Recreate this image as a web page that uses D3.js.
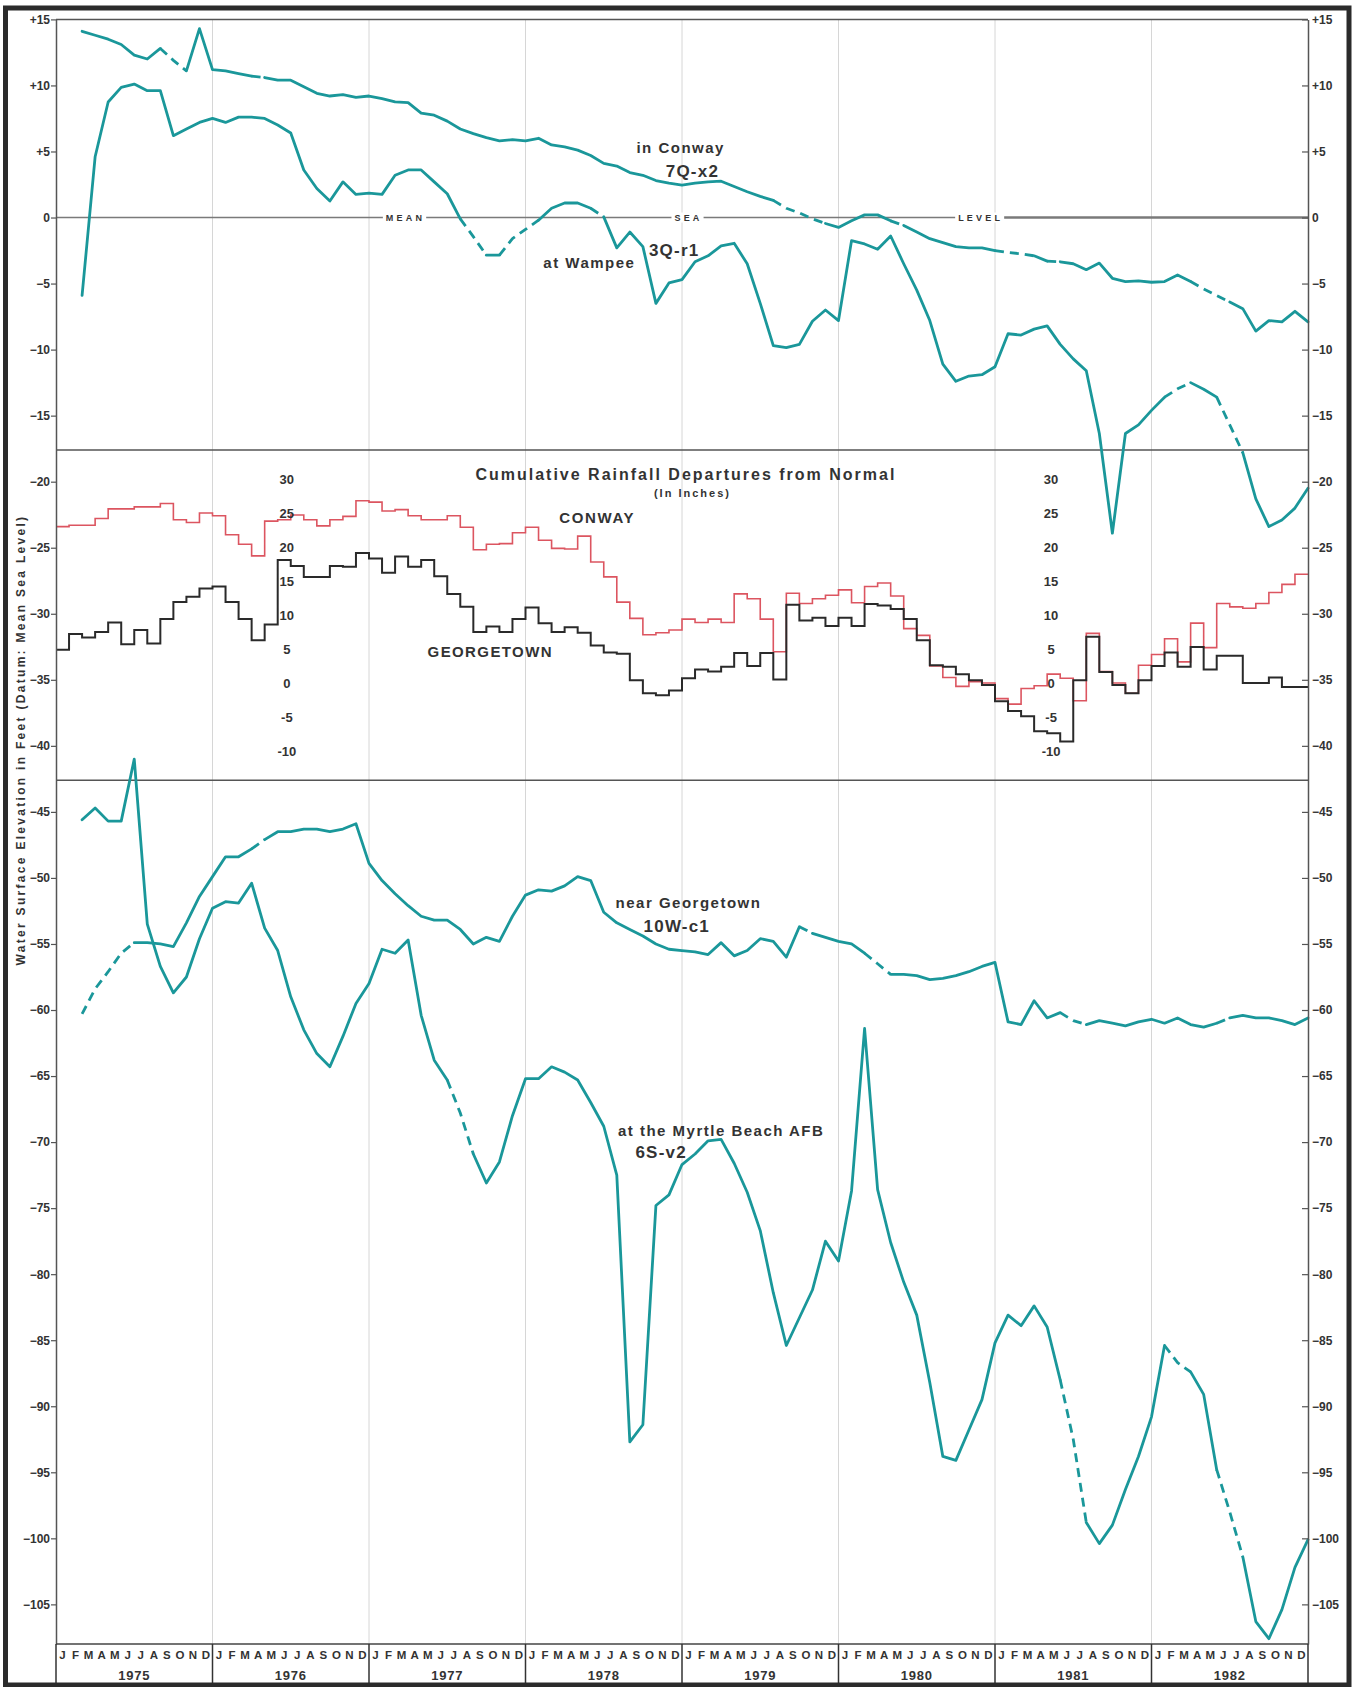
<!DOCTYPE html>
<html>
<head>
<meta charset="utf-8">
<title>Water levels and cumulative rainfall departures, 1975-1982</title>
<script src="https://cdn.jsdelivr.net/npm/d3@7"></script>
<style>
  html, body { margin: 0; padding: 0; background: #fff; }
  svg { display: block; }
</style>
</head>
<body>
<svg id="chart" width="1362" height="1687"></svg>
<script>
// ---- Calendar ----
const years = [1975, 1976, 1977, 1978, 1979, 1980, 1981, 1982];
const monthLetters = ["J", "F", "M", "A", "M", "J", "J", "A", "S", "O", "N", "D"];

// ---- Axis tick labels ----
const elevationTicks = [15, 10, 5, 0, -5, -10, -15, -20, -25, -30, -35, -40, -45, -50, -55,
  -60, -65, -70, -75, -80, -85, -90, -95, -100, -105];
const rainTicks = [30, 25, 20, 15, 10, 5, 0, -5, -10];

// ---- Well hydrographs: end-of-month water level, feet relative to mean sea level ----
// First reading is at the end of February 1975 (month 2), last at the end of December 1982 (month 96).
const firstReading = 2;

// 7Q-x2, in Conway
const conway7Q = [
  14.1, 13.8, 13.5, 13.1, 12.3, 12.0, 12.8, 11.9, 11.1, 14.3,
  11.2, 11.1, 10.9, 10.7, 10.6, 10.4, 10.4, 9.9, 9.4, 9.2,
  9.3, 9.1, 9.2, 9.0, 8.75, 8.7, 7.9, 7.75, 7.3, 6.7,
  6.35, 6.05, 5.8, 5.9, 5.8, 6.0, 5.5, 5.35, 5.1, 4.7,
  4.1, 3.9, 3.4, 3.2, 2.8, 2.6, 2.45, 2.6, 2.7, 2.75,
  2.35, 1.95, 1.6, 1.3, 0.7, 0.35, -0.1, -0.45, -0.75, -0.25,
  0.2, 0.2, -0.25, -0.6, -1.1, -1.6, -1.9, -2.2, -2.3, -2.3,
  -2.5, -2.65, -2.75, -2.9, -3.3, -3.35, -3.5, -3.95, -3.45, -4.6,
  -4.85, -4.8, -4.9, -4.85, -4.35, -4.85, -5.4, -5.9, -6.4, -6.9,
  -8.6, -7.8, -7.9, -7.1, -7.9
];
// 3Q-r1, at Wampee
const wampee3Q = [
  -5.9, 4.6, 8.75, 9.85, 10.1, 9.6, 9.6, 6.2, 6.7, 7.2,
  7.5, 7.2, 7.6, 7.6, 7.5, 7.0, 6.4, 3.6, 2.2, 1.25,
  2.7, 1.75, 1.85, 1.75, 3.2, 3.6, 3.6, 2.7, 1.8, -0.1,
  -1.45, -2.85, -2.85, -1.6, -0.9, -0.2, 0.7, 1.1, 1.1, 0.7,
  0.05, -2.3, -1.1, -2.2, -6.5, -4.95, -4.7, -3.35, -2.9, -2.15,
  -1.95, -3.5, -6.5, -9.7, -9.85, -9.6, -7.85, -7.0, -7.8, -1.75,
  -2.0, -2.4, -1.4, -3.5, -5.5, -7.8, -11.1, -12.4, -12.0, -11.9,
  -11.3, -8.8, -8.9, -8.45, -8.2, -9.6, -10.7, -11.6, -16.35, -23.9,
  -16.35, -15.7, -14.6, -13.6, -12.97, -12.5, -13.0, -13.6, -15.7, -17.8,
  -21.3, -23.4, -22.9, -22.0, -20.5
];
// 10W-c1, near Georgetown
const georgetown10W = [
  -60.3, -58.4, -57.1, -55.7, -54.9, -54.9, -55.0, -55.2, -53.4, -51.4,
  -49.9, -48.4, -48.4, -47.8, -47.1, -46.5, -46.5, -46.3, -46.3, -46.5,
  -46.3, -45.9, -48.9, -50.2, -51.2, -52.1, -52.9, -53.2, -53.2, -53.9,
  -55.0, -54.5, -54.8, -52.9, -51.3, -50.9, -51.0, -50.6, -49.9, -50.2,
  -52.6, -53.4, -53.9, -54.4, -55.0, -55.4, -55.5, -55.6, -55.8, -54.9,
  -55.9, -55.5, -54.6, -54.8, -56.0, -53.7, -54.2, -54.5, -54.8, -55.0,
  -55.7, -56.5, -57.3, -57.3, -57.4, -57.7, -57.6, -57.4, -57.1, -56.7,
  -56.4, -60.9, -61.1, -59.3, -60.6, -60.2, -60.8, -61.1, -60.8, -61.0,
  -61.2, -60.9, -60.7, -61.0, -60.6, -61.1, -61.3, -61.0, -60.6, -60.4,
  -60.6, -60.6, -60.8, -61.1, -60.6
];
// 6S-v2, at the Myrtle Beach AFB
const myrtle6S = [
  -45.6, -44.7, -45.7, -45.7, -41.0, -53.5, -56.7, -58.7, -57.5, -54.6,
  -52.3, -51.8, -51.9, -50.4, -53.8, -55.5, -59.0, -61.5, -63.3, -64.3,
  -62.0, -59.5, -58.0, -55.4, -55.7, -54.7, -60.4, -63.8, -65.3, -67.8,
  -70.9, -73.1, -71.5, -68.0, -65.2, -65.2, -64.3, -64.7, -65.3, -67.0,
  -68.8, -72.5, -92.7, -91.4, -74.8, -74.0, -71.7, -70.9, -69.9, -69.8,
  -71.6, -73.8, -76.7, -81.4, -85.4, -83.3, -81.2, -77.5, -79.0, -73.7,
  -61.4, -73.6, -77.6, -80.6, -83.1, -88.2, -93.8, -94.1, -91.8, -89.5,
  -85.2, -83.1, -83.9, -82.4, -84.0, -88.0, -92.5, -98.8, -100.4, -99.0,
  -96.3, -93.8, -90.8, -85.4, -86.7, -87.4, -89.1, -94.8, -98.0, -101.4,
  -106.3, -107.6, -105.4, -102.2, -100.1
];

// Intervals with an estimated record: each entry is the month that starts the interval
const conway7QEstimated = [8, 9, 15, 55, 56, 57, 58, 64, 72, 73, 74, 76, 87, 88, 89];
const wampee3QEstimated = [31, 32, 34, 35, 36, 41, 85, 86, 89, 90];
const georgetown10WEstimated = [2, 3, 4, 5, 15, 57, 62, 63, 77, 78, 89];
const myrtle6SEstimated = [30, 31, 77, 78, 85, 86, 89, 90];

// ---- Cumulative rainfall departure from normal, inches, monthly Jan 1975 - Dec 1982 ----
const rainConway = [
  23.0, 23.2, 23.2, 24.2, 25.6, 25.6, 25.9, 25.9, 26.4, 24.0, 23.6, 25.0,
  24.6, 21.8, 20.4, 18.7, 23.8, 24.0, 24.7, 24.0, 23.1, 24.0, 24.5, 26.8,
  26.6, 25.3, 25.5, 24.6, 24.0, 24.0, 24.6, 22.9, 19.6, 20.4, 20.5, 22.1,
  22.9, 21.0, 19.8, 19.7, 21.6, 17.8, 15.6, 11.9, 9.5, 7.1, 7.4, 7.8,
  9.4, 8.9, 9.4, 8.9, 13.1, 12.4, 9.4, 4.6, 13.2, 11.7, 12.4, 12.9,
  13.7, 11.8, 14.2, 14.7, 12.8, 8.0, 7.0, 2.5, 0.8, -0.5, 0.2, 0.0,
  -2.3, -3.1, -0.8, -0.4, 1.3, 0.7, -2.6, 7.3, 1.7, 0.0, -1.5, 2.6,
  4.2, 6.5, 3.1, 8.8, 5.2, 11.7, 11.2, 11.0, 11.7, 13.3, 14.5, 16.0
];
const rainGeorgetown = [
  4.9, 7.2, 6.7, 7.5, 8.9, 5.7, 7.8, 5.8, 9.4, 11.9, 12.7, 13.9,
  14.2, 11.9, 9.4, 6.3, 8.6, 18.1, 17.2, 15.6, 15.6, 17.2, 17.1, 19.1,
  18.3, 16.2, 18.6, 17.1, 18.1, 15.7, 13.1, 11.2, 7.5, 8.3, 7.5, 9.4,
  11.1, 8.8, 7.5, 8.2, 7.4, 5.5, 4.5, 4.3, 0.4, -1.5, -1.8, -1.1,
  0.7, 2.0, 1.7, 2.4, 4.4, 2.5, 4.4, 0.5, 11.5, 9.2, 9.6, 8.4,
  9.6, 8.4, 11.6, 11.4, 10.9, 9.4, 6.3, 2.6, 2.4, 1.3, 0.4, -0.3,
  -2.7, -4.1, -4.9, -7.1, -7.4, -8.6, 0.4, 6.8, 1.6, -0.3, -1.5, 0.4,
  2.5, 4.5, 2.4, 5.3, 2.0, 4.0, 4.0, 0.0, 0.0, 0.8, -0.6, -0.6
];

// Elevations (feet) where the figure is split into its three panels
const panelBreaks = [-17.6, -42.6];

// ---------------------------------------------------------------------------
const FONT = '"Liberation Sans", Arial, Helvetica, sans-serif';
const TEAL = "#1a979a";
const INK = "#333";

const svg = d3.select("#chart").attr("font-family", FONT);
svg.append("rect").attr("width", 1362).attr("height", 1687).attr("fill", "#fff");

const plot = { left: 56, right: 1308, top: 19.4, bottom: 1644 };
const x = d3.scaleLinear().domain([0, 96]).range([plot.left, plot.right]);
const y = d3.scaleLinear().domain([15, -108]).range([plot.top, plot.bottom]);
const yRain = d3.scaleLinear().domain([-10, 30]).range([751, 479]);

// Year gridlines
svg.append("g").selectAll("line")
  .data(years.slice(1).map((yr, i) => (i + 1) * 12))
  .join("line")
  .attr("x1", d => x(d)).attr("x2", d => x(d))
  .attr("y1", plot.top).attr("y2", plot.bottom)
  .attr("stroke", "#d6d6d6").attr("stroke-width", 1);

// Panel separators
svg.append("g").selectAll("line").data(panelBreaks).join("line")
  .attr("x1", plot.left).attr("x2", plot.right)
  .attr("y1", d => y(d)).attr("y2", d => y(d))
  .attr("stroke", "#555").attr("stroke-width", 1.6);

// Mean sea level line with its spaced caption
const msl = svg.append("g");
msl.append("line")
  .attr("x1", plot.left).attr("x2", x(70))
  .attr("y1", y(0)).attr("y2", y(0))
  .attr("stroke", "#7a7a7a").attr("stroke-width", 1.6);
msl.append("line")
  .attr("x1", x(70)).attr("x2", plot.right)
  .attr("y1", y(0)).attr("y2", y(0))
  .attr("stroke", "#7a7a7a").attr("stroke-width", 2.6);
const mslWords = [{ w: "MEAN", t: 26.8 }, { w: "SEA", t: 48.5 }, { w: "LEVEL", t: 70.9 }];
mslWords.forEach(d => {
  const g = msl.append("g");
  const txt = g.append("text")
    .attr("x", x(d.t)).attr("y", y(0))
    .attr("text-anchor", "middle").attr("dominant-baseline", "central")
    .attr("font-size", 9).attr("font-weight", "bold")
    .attr("letter-spacing", 3.2).attr("fill", INK)
    .text(d.w);
  const bb = txt.node().getBBox();
  g.insert("rect", "text")
    .attr("x", bb.x - 3).attr("y", bb.y).attr("width", bb.width + 4).attr("height", bb.height)
    .attr("fill", "#fff");
});

// Rainfall departure step lines
const stepLine = d3.line().curve(d3.curveStepAfter)
  .x(d => x(d.t)).y(d => yRain(d.v));
const stepPoints = arr => arr.map((v, i) => ({ t: i, v })).concat([{ t: 96, v: arr[arr.length - 1] }]);
svg.append("path").datum(stepPoints(rainConway))
  .attr("d", stepLine).attr("fill", "none")
  .attr("stroke", "#dc5560").attr("stroke-width", 1.6);
svg.append("path").datum(stepPoints(rainGeorgetown))
  .attr("d", stepLine).attr("fill", "none")
  .attr("stroke", "#2a2a2a").attr("stroke-width", 2);

// Rainfall scale labels, printed twice inside the middle panel
[17.7, 76.3].forEach(tc => {
  svg.append("g").selectAll("text").data(rainTicks).join("text")
    .attr("x", x(tc)).attr("y", d => yRain(d))
    .attr("text-anchor", "middle").attr("dominant-baseline", "central")
    .attr("font-size", 13).attr("font-weight", "bold").attr("fill", INK)
    .text(d => d < 0 ? "-" + Math.abs(d) : String(d));
});

// Hydrograph lines, dashed where the record is estimated
const hydroLine = d3.line().x(d => x(d.t)).y(d => y(d.v));
function drawHydrograph(values, estimated) {
  const pts = values.map((v, i) => ({ t: i + firstReading, v }));
  const runs = [];
  for (let i = 0; i < pts.length - 1; i++) {
    const dashed = estimated.includes(pts[i].t);
    const last = runs[runs.length - 1];
    if (last && last.dashed === dashed) last.pts.push(pts[i + 1]);
    else runs.push({ dashed, pts: [pts[i], pts[i + 1]] });
  }
  svg.append("g").selectAll("path").data(runs).join("path")
    .attr("d", r => hydroLine(r.pts))
    .attr("fill", "none").attr("stroke", TEAL).attr("stroke-width", 2.8)
    .attr("stroke-linejoin", "round")
    .attr("stroke-linecap", r => r.dashed ? "butt" : "round")
    .attr("stroke-dasharray", r => r.dashed ? "9,6" : null);
}
drawHydrograph(conway7Q, conway7QEstimated);
drawHydrograph(wampee3Q, wampee3QEstimated);
drawHydrograph(georgetown10W, georgetown10WEstimated);
drawHydrograph(myrtle6S, myrtle6SEstimated);

// Series captions (placed in data units)
const captions = [
  { text: "in Conway", t: 47.9, v: 5.3, size: 15, ls: 1.5, scale: "y" },
  { text: "7Q-x2", t: 48.8, v: 3.5, size: 17, ls: 1.2, scale: "y" },
  { text: "3Q-r1", t: 47.4, v: -2.5, size: 17, ls: 1.2, scale: "y" },
  { text: "at Wampee", t: 40.9, v: -3.4, size: 15, ls: 1.5, scale: "y" },
  { text: "near Georgetown", t: 48.5, v: -51.85, size: 15, ls: 1.5, scale: "y" },
  { text: "10W-c1", t: 47.6, v: -53.65, size: 17, ls: 1.2, scale: "y" },
  { text: "at the Myrtle Beach AFB", t: 51.0, v: -69.1, size: 15, ls: 1.5, scale: "y" },
  { text: "6S-v2", t: 46.4, v: -70.77, size: 17, ls: 1.2, scale: "y" },
  { text: "Cumulative Rainfall Departures from Normal", t: 48.3, v: 30.6, size: 16, ls: 2, scale: "rain" },
  { text: "(In Inches)", t: 48.8, v: 27.9, size: 11, ls: 2, scale: "rain" },
  { text: "CONWAY", t: 41.5, v: 24.3, size: 15, ls: 1.6, scale: "rain" },
  { text: "GEORGETOWN", t: 33.3, v: 4.6, size: 15, ls: 1.4, scale: "rain" }
];
svg.append("g").selectAll("text").data(captions).join("text")
  .attr("x", d => x(d.t))
  .attr("y", d => d.scale === "y" ? y(d.v) : yRain(d.v))
  .attr("text-anchor", "middle").attr("dominant-baseline", "central")
  .attr("font-size", d => d.size).attr("font-weight", "bold")
  .attr("letter-spacing", d => d.ls).attr("fill", INK)
  .text(d => d.text);

// Elevation axes, left and right
const fmtElev = v => v > 0 ? "+" + v : v < 0 ? "\u2212" + Math.abs(v) : "0";
function styleAxis(g) {
  g.attr("font-family", FONT).attr("font-size", 12);
  g.select(".domain").attr("stroke", "#555").attr("stroke-width", 1.5);
  g.selectAll(".tick line").attr("stroke", "#555").attr("stroke-width", 1.2);
  g.selectAll(".tick text").attr("font-weight", "bold").attr("fill", INK);
}
svg.append("g").attr("transform", `translate(${plot.left},0)`)
  .call(d3.axisLeft(y).tickValues(elevationTicks).tickFormat(fmtElev)
    .tickSize(5).tickSizeOuter(0).tickPadding(1))
  .call(styleAxis);
svg.append("g").attr("transform", `translate(${plot.right},0)`)
  .call(d3.axisRight(y).tickValues(elevationTicks).tickFormat(fmtElev)
    .tickSize(-6).tickSizeOuter(0).tickPadding(4))
  .call(styleAxis);

// Top and bottom edges of the plot
svg.append("line").attr("x1", plot.left).attr("x2", plot.right)
  .attr("y1", plot.top).attr("y2", plot.top)
  .attr("stroke", "#555").attr("stroke-width", 1.5);
svg.append("line").attr("x1", plot.left).attr("x2", plot.right)
  .attr("y1", plot.bottom).attr("y2", plot.bottom)
  .attr("stroke", "#444").attr("stroke-width", 1.5);

// Time axis: month initials and years, boxed by year
const timeAxis = svg.append("g");
timeAxis.selectAll("line").data(d3.range(0, 97, 12)).join("line")
  .attr("x1", d => x(d)).attr("x2", d => x(d))
  .attr("y1", plot.bottom).attr("y2", 1685)
  .attr("stroke", "#333").attr("stroke-width", 1.5);
const monthCells = [];
years.forEach((yr, i) => monthLetters.forEach((m, j) => monthCells.push({ m, t: i * 12 + j + 0.5 })));
timeAxis.append("g").selectAll("text").data(monthCells).join("text")
  .attr("x", d => x(d.t)).attr("y", 1655)
  .attr("text-anchor", "middle").attr("dominant-baseline", "central")
  .attr("font-size", 11.5).attr("font-weight", "bold").attr("fill", INK)
  .text(d => d.m);
timeAxis.append("g").selectAll("text").data(years).join("text")
  .attr("x", (d, i) => x(i * 12 + 6)).attr("y", 1675)
  .attr("text-anchor", "middle").attr("dominant-baseline", "central")
  .attr("font-size", 13).attr("font-weight", "bold").attr("letter-spacing", 0.8).attr("fill", INK)
  .text(d => d);

// Vertical axis title
svg.append("text")
  .attr("transform", "translate(20.5,740) rotate(-90)")
  .attr("text-anchor", "middle").attr("dominant-baseline", "central")
  .attr("font-size", 12).attr("font-weight", "bold").attr("letter-spacing", 2.3)
  .attr("fill", INK)
  .text("Water Surface Elevation in Feet (Datum: Mean Sea Level)");

// Outer frame
svg.append("rect")
  .attr("x", 5.5).attr("y", 8).attr("width", 1343.5).attr("height", 1677)
  .attr("fill", "none").attr("stroke", "#2b2b2b").attr("stroke-width", 5);
</script>
</body>
</html>
